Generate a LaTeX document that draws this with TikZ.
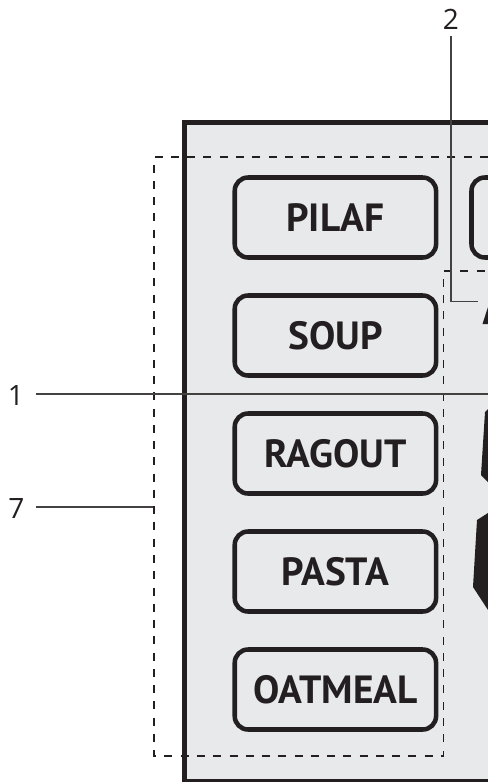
\documentclass[tikz,border=0pt]{standalone}
\usepackage{fontspec}
\setmainfont{PT Sans}
\newfontfamily\calloutfont{Open Sans}
\definecolor{panelgray}{HTML}{E8E9EB}
\definecolor{inkdark}{HTML}{231F20}
\tikzset{
  dishbox/.style={draw=inkdark,line width=3.4pt,rounded corners=10pt,minimum width=151pt,minimum height=60pt,inner sep=0pt,font=\bfseries\fontsize{29.5}{31}\selectfont,text=inkdark},
  callout/.style={font=\calloutfont\fontsize{21}{24}\selectfont,text=inkdark,inner sep=0pt},
  leader/.style={draw=inkdark!85,line width=1.1pt},
  dashframe/.style={draw=inkdark,line width=1.25pt,dash pattern=on 6pt off 6.2pt}
}
\begin{document}
\begin{tikzpicture}[x=0.75pt,y=-0.75pt]
\useasboundingbox (0,0) rectangle (488,782);
\clip (0,0) rectangle (488,782);
\draw[draw=inkdark,fill=panelgray,line width=3.7pt] (184.5,122.4) -- (500,122.4) -- (500,781.8) -- (184.5,781.8) -- cycle;
\node[dishbox] (pilaf) at (335.4,217.5) {PILAF};
\node[dishbox] (soup) at (335.4,335.5) {SOUP};
\node[dishbox] (ragout) at (335.4,453.5) {RAGOUT};
\node[dishbox] (pasta) at (335.4,571.5) {PASTA};
\node[dishbox] (oatmeal) at (335.4,689.5) {OATMEAL};
\draw[draw=inkdark,line width=3.4pt,rounded corners=10pt] (520,177.5) -- (471.5,177.5) -- (471.5,257.5) -- (520,257.5);
% display segments
\fill[inkdark] (488,307) -- (482.5,324) -- (488,324) -- cycle;
\fill[inkdark] (488,409) -- (485,412) -- (481,475) -- (488,482) -- cycle;
\fill[inkdark] (488,513) -- (477,520) -- (473,587) -- (488,610) -- cycle;
\draw[dashframe] (488,157) -- (154,157) -- (154,756) -- (443.5,756) -- (443.5,271) -- (488,271);
\node[callout] (num2) at (451,19.5) {2};
\node[callout] (num1) at (16,395) {1};
\node[callout] (num7) at (16.5,508) {7};
\coordinate (start2) at (451,36);
\coordinate (start1) at (36,393.8);
\coordinate (start7) at (36,507);
\coordinate (end2) at (478,301.5);
\coordinate (end1) at (488,393.8);
\coordinate (end7) at (153,507);
\draw[leader] (start2) |- (end2);
\draw[leader] (start1) -- (end1);
\draw[leader] (start7) -- (end7);
\end{tikzpicture}
\end{document}
